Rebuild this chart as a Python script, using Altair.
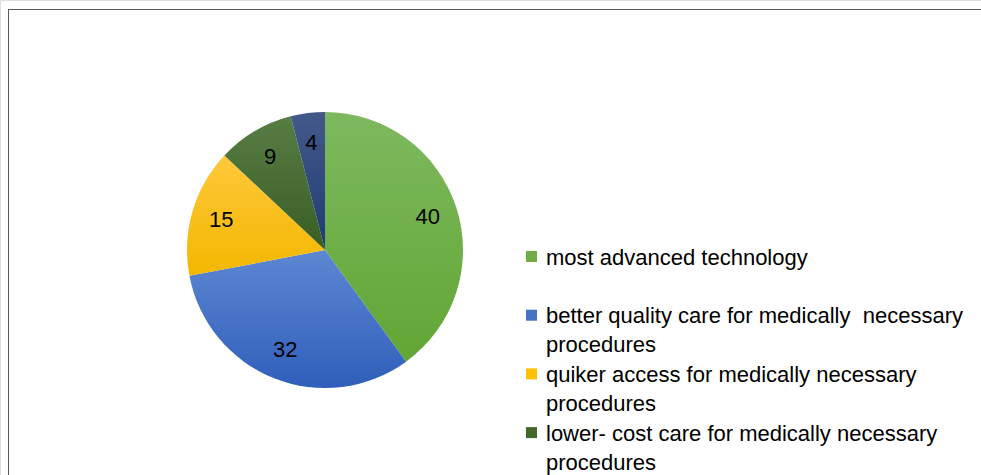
import altair as alt
import pandas as pd

categories = [
    "most advanced technology",
    "better quality care for medically\u00a0\u00a0necessary|procedures",
    "quiker access for medically necessary|procedures",
    "lower- cost care for medically necessary|procedures",
    "other",
]
values = [40, 32, 15, 9, 4]
solid_colors = ["#70AD47", "#4472C4", "#FFC000", "#43682B", "#264478"]
grad_top = ["#7DB95F", "#5D87D2", "#FFC83A", "#577D45", "#44598A"]
grad_bottom = ["#62A634", "#2F5FBA", "#F2B700", "#395E24", "#1F3B74"]
legend_shown = [True, True, True, True, False]  # 5th entry lies below the visible area

df = pd.DataFrame({
    "category": categories,
    "value": values,
    "idx": list(range(len(values))),
    "shown": legend_shown,
})
total = sum(values)

CX, CY, R = 325, 250, 138
FONT = "Liberation Sans"

base = alt.Chart(df)
color_scale = alt.Scale(domain=categories, range=solid_colors)

layers = []
for i, cat in enumerate(categories):
    grad = alt.LinearGradient(
        gradient="linear",
        stops=[
            alt.GradientStop(color=grad_top[i], offset=0),
            alt.GradientStop(color=grad_bottom[i], offset=1),
        ],
        x1=0, x2=0, y1=0, y2=1,
    )
    layer = (
        base.transform_window(cum="sum(value)", sort=[alt.SortField("idx")])
        .transform_calculate(v0="datum.cum - datum.value")
        .transform_filter(alt.datum.idx == i)
        .mark_arc(radius=R, fill=grad, stroke=None)
        .encode(
            theta=alt.Theta("v0:Q", scale=alt.Scale(domain=[0, total])),
            theta2="cum:Q",
            x=alt.value(CX),
            y=alt.value(CY),
        )
    )
    layers.append(layer)

labels = base.mark_text(radius=108, font=FONT, fontSize=22, color="#000000").encode(
    theta=alt.Theta("value:Q", stack=True),
    order=alt.Order("idx:Q"),
    text=alt.Text("value:Q"),
    x=alt.value(CX),
    y=alt.value(CY),
)
layers.append(labels)

# legend drawn as a layer: Excel spaces every entry two lines apart
legend_y = alt.Y(
    "category:N",
    sort=categories,
    scale=alt.Scale(type="point", domain=categories, range=[256.5, 256.5 + 4 * 58.7], padding=0),
    axis=None,
)
leg_base = base.transform_filter(alt.datum.shown)
leg_sym = leg_base.mark_square(size=121, opacity=1, strokeWidth=0).encode(
    x=alt.value(531.5),
    y=legend_y,
    color=alt.Color("category:N", scale=color_scale, legend=None),
)
leg_txt = (
    leg_base.transform_calculate(lines="split(datum.category, '|')")
    .mark_text(
        align="left", baseline="alphabetic", dy=8, font=FONT, fontSize=22,
        lineHeight=29, color="#000000",
    )
    .encode(x=alt.value(546), y=legend_y, text="lines:N")
)
layers += [leg_sym, leg_txt]

border_top = base.mark_rule(color="#595959", strokeWidth=1).encode(
    x=alt.value(8), x2=alt.value(981), y=alt.value(9.5)
)
border_left = base.mark_rule(color="#595959", strokeWidth=1).encode(
    x=alt.value(8.5), y=alt.value(9), y2=alt.value(475)
)
layers += [border_top, border_left]

chart = (
    alt.layer(*layers)
    .resolve_scale(y="independent")
    .properties(width=981, height=475, autosize=alt.AutoSizeParams(type="none"), padding=0)
    .configure_view(stroke=None)
    .configure(background="white")
)

chart.save("out.html", embed_options={"renderer": "svg", "actions": False})
